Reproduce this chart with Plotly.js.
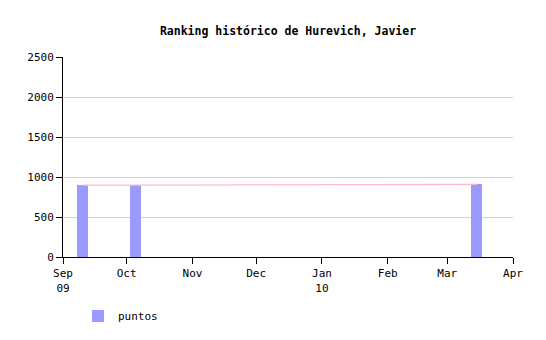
<!DOCTYPE html>
<html>
<head>
<meta charset="utf-8">
<script src="https://cdn.plot.ly/plotly-3.0.1.min.js"></script>
<style>html,body{margin:0;padding:0;background:#fff;}#chart{width:546px;height:340px;}</style>
</head>
<body>
<div id="chart"></div>
<script>
var fechas = ['2009-09-10', '2009-10-05', '2010-03-15'];
var puntos = [898, 898, 908];
var tickFechas = ['2009-09-01', '2009-10-01', '2009-11-01', '2009-12-01', '2010-01-01', '2010-02-01', '2010-03-01', '2010-04-01'];
var tickTextos = ['Sep<br>09', 'Oct', 'Nov', 'Dec', 'Jan<br>10', 'Feb', 'Mar', 'Apr'];
var yTicks = [0, 500, 1000, 1500, 2000, 2500];

var DAY = 86400000;
var fnt = {family: 'DejaVu Sans Mono, monospace', size: 11, color: '#000'};

var traces = [
  {
    type: 'scatter', mode: 'lines', x: fechas, y: puntos,
    line: {color: 'rgb(255,185,198)', width: 1.2},
    showlegend: false, hoverinfo: 'skip'
  },
  {
    type: 'bar', name: 'puntos', x: fechas, y: puntos,
    width: fechas.map(function(){ return 5.2 * DAY; }),
    marker: {color: '#9999ff', line: {width: 0}}
  }
];

var layout = {
  width: 546, height: 340,
  margin: {l: 63, r: 33, t: 57, b: 83, pad: 0},
  paper_bgcolor: '#fff', plot_bgcolor: '#fff',
  font: fnt,
  title: {text: '<b>Ranking histórico de Hurevich, Javier</b>', font: {family: 'DejaVu Sans Mono, monospace', size: 11.5, color: '#000'}, x: 0.5, xref: 'paper', y: 1 - 31/340, yanchor: 'middle'},
  xaxis: {
    type: 'date', range: ['2009-09-01', '2010-04-01'], automargin: false,
    tickmode: 'array', tickvals: tickFechas, ticktext: tickTextos,
    showgrid: false, zeroline: false,
    showline: true, linecolor: '#000', linewidth: 1,
    ticks: 'outside', ticklen: 6, tickcolor: '#000', tickwidth: 1,
    tickfont: fnt
  },
  yaxis: {
    range: [0, 2500], tickmode: 'array', tickvals: yTicks, automargin: false,
    showgrid: true, gridcolor: 'rgb(224,206,196)', gridwidth: 1,
    zeroline: false, showline: true, linecolor: '#000', linewidth: 1,
    ticks: 'outside', ticklen: 6, tickcolor: '#000', tickwidth: 1,
    tickfont: fnt
  },
  showlegend: true,
  legend: {orientation: 'h', xref: 'container', yref: 'container', x: 78/546, xanchor: 'left', y: 1 - 301.5/340, yanchor: 'top', font: fnt, bgcolor: 'rgba(0,0,0,0)'},
  bargap: 0
};

Plotly.newPlot('chart', traces, layout, {staticPlot: true, displayModeBar: false});
</script>
</body>
</html>
